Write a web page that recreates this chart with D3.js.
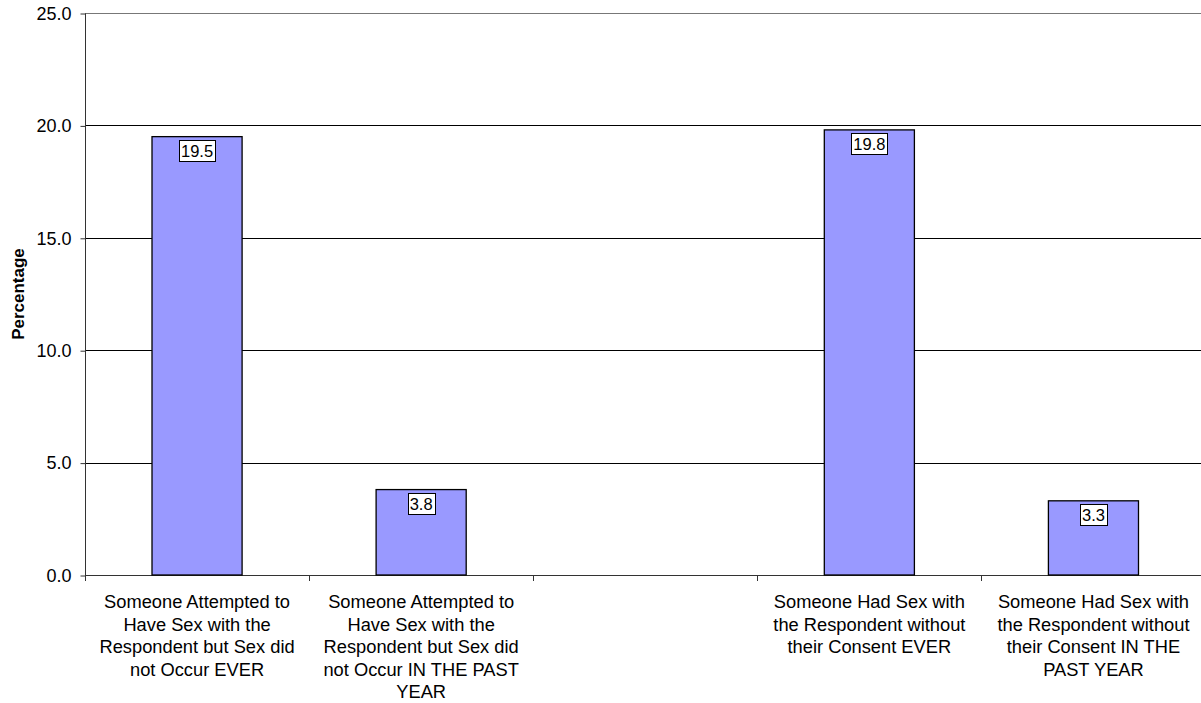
<!DOCTYPE html>
<html><head><meta charset="utf-8">
<script src="https://cdn.jsdelivr.net/npm/d3@7"></script>
<style>
html,body{margin:0;padding:0;background:#fff;}
svg{display:block;font-family:"Liberation Sans",Arial,sans-serif;}
</style></head>
<body>
<svg id="chart" width="1201" height="703"></svg>
<script>
const categories = [
  ["Someone Attempted to","Have Sex with the","Respondent but Sex did","not Occur EVER"],
  ["Someone Attempted to","Have Sex with the","Respondent but Sex did","not Occur IN THE PAST","YEAR"],
  [],
  ["Someone Had Sex with","the Respondent without","their Consent EVER"],
  ["Someone Had Sex with","the Respondent without","their Consent IN THE","PAST YEAR"]
];
const values = [19.5, 3.8, null, 19.8, 3.3];
const yTicks = [0, 5, 10, 15, 20, 25];
const yLabel = "Percentage";

(function () {
const svg = d3.select("#chart");
const pL = 85, pR = 1205.5, pT = 13, pB = 575;
const FONT = "Liberation Sans, Arial, sans-serif";

const x = d3.scaleBand().domain(d3.range(categories.length)).range([pL, pR]).padding(0);
const y = d3.scaleLinear().domain([0, 25]).range([pB, pT]);

// gridlines
svg.append("g").selectAll("line").data(yTicks.filter(d => d > 0)).join("line")
  .attr("x1", pL).attr("x2", 1201)
  .attr("y1", d => Math.round(y(d)) + 0.5).attr("y2", d => Math.round(y(d)) + 0.5)
  .attr("stroke", d => d === 25 ? "#777" : "#000").attr("stroke-width", 1);

// y axis
const yAxis = d3.axisLeft(y).tickValues(yTicks).tickFormat(d3.format(".1f")).tickSize(5).tickPadding(9);
const gy = svg.append("g").attr("transform", `translate(${pL + 0.5},0.5)`).call(yAxis);
gy.select(".domain").attr("stroke", "#333").attr("d", `M0,${pT}V${pB}`);
gy.selectAll(".tick line").attr("stroke", "#333");
gy.selectAll(".tick text").attr("font-size", 18).attr("fill", "#000").attr("font-family", FONT);

// x axis
const bounds = d3.range(categories.length + 1).map(i => pL + i * x.step());
svg.append("line").attr("x1", pL).attr("x2", 1201)
  .attr("y1", pB + 0.5).attr("y2", pB + 0.5).attr("stroke", "#333");
svg.append("g").selectAll("line").data(bounds).join("line")
  .attr("x1", d => Math.round(d) + 0.5).attr("x2", d => Math.round(d) + 0.5)
  .attr("y1", pB).attr("y2", pB + 6).attr("stroke", "#333");

// category labels
const lab = svg.append("g").attr("font-size", 18.3).attr("text-anchor", "middle").attr("fill", "#000");
categories.forEach((lines, i) => {
  const cx = x(i) + x.bandwidth() / 2;
  const t = lab.append("text").attr("x", cx).attr("y", 608);
  lines.forEach((l, j) => t.append("tspan").attr("x", cx).attr("dy", j === 0 ? 0 : 22.6).text(l));
});

// bars
const bw = x.bandwidth() * 0.402;
const barData = values.map((v, i) => ({v, i})).filter(d => d.v != null);
svg.append("g").selectAll("rect").data(barData).join("rect")
  .attr("x", d => x(d.i) + (x.bandwidth() - bw) / 2)
  .attr("y", d => y(d.v))
  .attr("width", bw)
  .attr("height", d => y(0) - y(d.v))
  .attr("fill", "#9999ff").attr("stroke", "#000").attr("stroke-width", 1.3);

// value labels
const vl = svg.append("g");
barData.forEach(d => {
  const cx = x(d.i) + x.bandwidth() / 2;
  const g = vl.append("g");
  const bt = Math.round(y(d.v) + 3.5);
  const txt = g.append("text").attr("x", cx).attr("y", bt + 16.5)
    .attr("text-anchor", "middle").attr("font-size", 16.5).attr("fill", "#000")
    .text(d3.format(".1f")(d.v));
  const w = txt.node().getComputedTextLength() + 4;
  g.insert("rect", "text").attr("x", Math.round(cx - w / 2) + 0.5).attr("y", bt + 0.5)
    .attr("width", Math.round(w)).attr("height", 21)
    .attr("fill", "#fff").attr("stroke", "#000").attr("stroke-width", 1);
});

// y label
svg.append("text").attr("transform", `translate(23.5,${(pT + pB) / 2}) rotate(-90)`)
  .attr("text-anchor", "middle").attr("font-size", 17).attr("font-weight", "bold").attr("fill", "#000")
  .text(yLabel);
})();
</script>
</body></html>
